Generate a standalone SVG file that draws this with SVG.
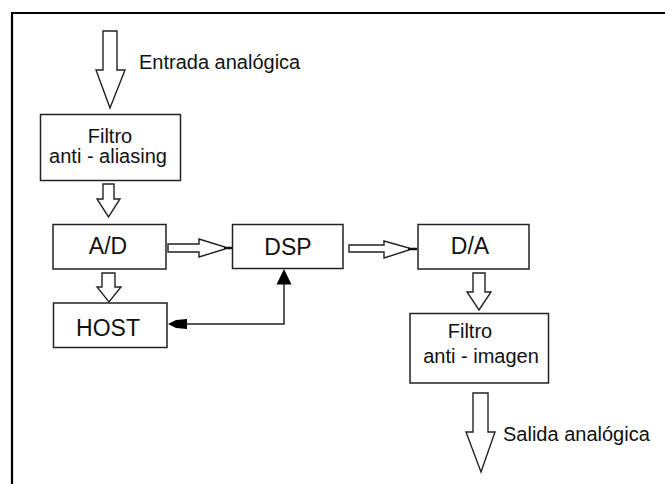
<svg xmlns="http://www.w3.org/2000/svg" width="665" height="484" viewBox="0 0 665 484">
<style>
.box{fill:#fff;stroke:#222;stroke-width:1.5}
.harrow{fill:#fff;stroke:#222;stroke-width:1.4;stroke-linejoin:miter}
.t{font-family:"Liberation Sans",Arial,sans-serif;fill:#111}
.t20{font-size:20px}
.t23{font-size:23px}
.line{fill:none;stroke:#222;stroke-width:1.5}
.head{fill:#000}
</style>
<rect width="665" height="484" fill="#fff"/>
<path d="M12,484 V13 H665" fill="none" stroke="#000" stroke-width="2.2"/>
<g id="label-entrada"><text class="t t20" x="139" y="69">Entrada analógica</text></g>
<g id="label-salida"><text class="t t20" x="503" y="441">Salida analógica</text></g>
<g id="filtro-aa">
<rect class="box" x="40.5" y="114.5" width="140" height="66"/>
<text class="t t20" x="110" y="143" text-anchor="middle">Filtro</text>
<text class="t t20" x="108" y="163" text-anchor="middle">anti - aliasing</text>
</g>
<g id="ad">
<rect class="box" x="53" y="224.5" width="113" height="44.5"/>
<text class="t t23" x="108" y="254" text-anchor="middle">A/D</text>
</g>
<g id="host">
<rect class="box" x="53.5" y="303" width="113.5" height="44.5"/>
<text class="t t23" x="108" y="336" text-anchor="middle">HOST</text>
</g>
<g id="dsp">
<rect class="box" x="232.5" y="224.5" width="110.5" height="44"/>
<text class="t t23" x="288" y="255" text-anchor="middle">DSP</text>
</g>
<g id="da">
<rect class="box" x="418" y="224.5" width="111" height="44.5"/>
<text class="t t23" x="470" y="254" text-anchor="middle">D/A</text>
</g>
<g id="filtro-ai">
<rect class="box" x="410" y="313.5" width="138.5" height="69.5"/>
<text class="t t20" x="470" y="338" text-anchor="middle">Filtro</text>
<text class="t t20" x="481" y="363" text-anchor="middle">anti - imagen</text>
</g>
<g id="connectors">
<polygon class="harrow" points="103,31 117,31 117,70 125,70 110,108 96,70 103,70"/>
<polygon class="harrow" points="103,184 114,184 114,199 120,199 108.5,217 97,199 103,199"/>
<polygon class="harrow" points="102,273 115,273 115,287 121,287 109,302 97,287 102,287"/>
<polygon class="harrow" points="168,244 199,244 199,239 225,247 225,249 199,257 199,252 168,252"/>
<line x1="224" y1="248" x2="232" y2="248" stroke="#111" stroke-width="2.5"/>
<polygon class="harrow" points="349,245 384,245 384,241 409,248 409,250 384,258 384,252 349,252"/>
<line x1="408" y1="249" x2="417" y2="249" stroke="#111" stroke-width="2.5"/>
<polygon class="harrow" points="473,273 485,273 485,292 491,292 479,310 467,292 473,292"/>
<polygon class="harrow" points="473,393 488,393 488,432 495,432 481,472 466,432 473,432"/>
<path class="line" d="M284,280 V324 H180"/>
<polygon class="head" points="284,269 276.5,284.5 291.5,284.5"/>
<polygon class="head" points="168,324 176,320 187,319 187,329 176,328"/>
</g>
</svg>
